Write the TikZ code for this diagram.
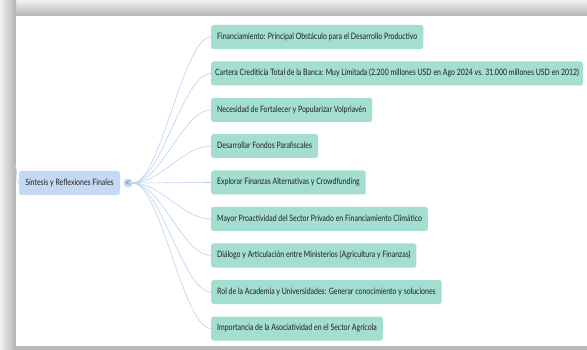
\documentclass[tikz,border=0pt]{standalone}
\usepackage{fontspec}
\newfontfamily\mapfont[FakeStretch=0.79]{Lato}
\usetikzlibrary{positioning}
\definecolor{MintLeaf}{RGB}{163, 222, 209}
\definecolor{PaleSky}{RGB}{197, 217, 243}
\definecolor{LinkBlue}{RGB}{188, 210, 240}
\definecolor{InkGrey}{RGB}{30, 30, 30}
\definecolor{FrameGrey}{RGB}{178, 178, 178}

\begin{document}
\begin{tikzpicture}[x=1pt, y=-1pt,
    topic/.style={rectangle, rounded corners=2.5pt, fill=MintLeaf, text=InkGrey,
        font=\mapfont\fontsize{8.8}{10}\selectfont, minimum height=24, inner xsep=6,
        text height=6.5, text depth=2, anchor=west},
    root/.style={topic, fill=PaleSky, anchor=center},
    link/.style={draw=LinkBlue, line width=0.6pt}]
    \useasboundingbox (0,0) rectangle (587,350);

    % Marco
    \fill[white] (0,0) rectangle (587,350);
    \shade[top color=gray!10, bottom color=FrameGrey] (0,0) rectangle (587,16);
    \shade[left color=gray!10, right color=FrameGrey] (0,0) rectangle (16,350);
    \fill[FrameGrey!90] (16,346) rectangle (587,350);
    \fill[white] (16,16) rectangle (587,346);

    % Nodo central
    \node[root, minimum width=101] (sintesis) at (69.5,183) {Síntesis y Reflexiones Finales};
    \node[circle, fill=PaleSky, inner sep=0pt, minimum size=9, text=InkGrey,
        font=\fontsize{6}{6}\selectfont] (hub) at (128,183) {<};
    \coordinate (offleft) at (15,165);
    \draw[link] (offleft) .. controls +(3,8) and +(-3,0) .. (sintesis.west);

    % Ramas
    \node[topic] (financ) at (211,37) {Financiamiento: Principal Obstáculo para el Desarrollo Productivo};
    \node[topic, inner xsep=4] (cartera) at (211,73.5) {Cartera Crediticia Total de la Banca: Muy Limitada (2.200 millones USD en Ago 2024 vs. 31.000 millones USD en 2012)};
    \node[topic] (volpri) at (211,110) {Necesidad de Fortalecer y Popularizar Volpriavén};
    \node[topic] (parafisc) at (211,146) {Desarrollar Fondos Parafiscales};
    \node[topic] (crowd) at (211,182.5) {Explorar Finanzas Alternativas y Crowdfunding};
    \node[topic] (privado) at (211,219) {Mayor Proactividad del Sector Privado en Financiamiento Climático};
    \node[topic] (ministerios) at (211,255.5) {Diálogo y Articulación entre Ministerios (Agricultura y Finanzas)};
    \node[topic] (academia) at (211,292) {Rol de la Academia y Universidades: Generar conocimiento y soluciones};
    \node[topic] (asociat) at (211,328.5) {Importancia de la Asociatividad en el Sector Agrícola};

    % Conectores
    \draw[link] (hub.east) .. controls +(28,0) and +(-28,0) .. (financ.west);
    \draw[link] (hub.east) .. controls +(28,0) and +(-28,0) .. (cartera.west);
    \draw[link] (hub.east) .. controls +(28,0) and +(-28,0) .. (volpri.west);
    \draw[link] (hub.east) .. controls +(28,0) and +(-28,0) .. (parafisc.west);
    \draw[link] (hub.east) -- (crowd.west);
    \draw[link] (hub.east) .. controls +(28,0) and +(-28,0) .. (privado.west);
    \draw[link] (hub.east) .. controls +(28,0) and +(-28,0) .. (ministerios.west);
    \draw[link] (hub.east) .. controls +(28,0) and +(-28,0) .. (academia.west);
    \draw[link] (hub.east) .. controls +(28,0) and +(-28,0) .. (asociat.west);
\end{tikzpicture}
\end{document}
